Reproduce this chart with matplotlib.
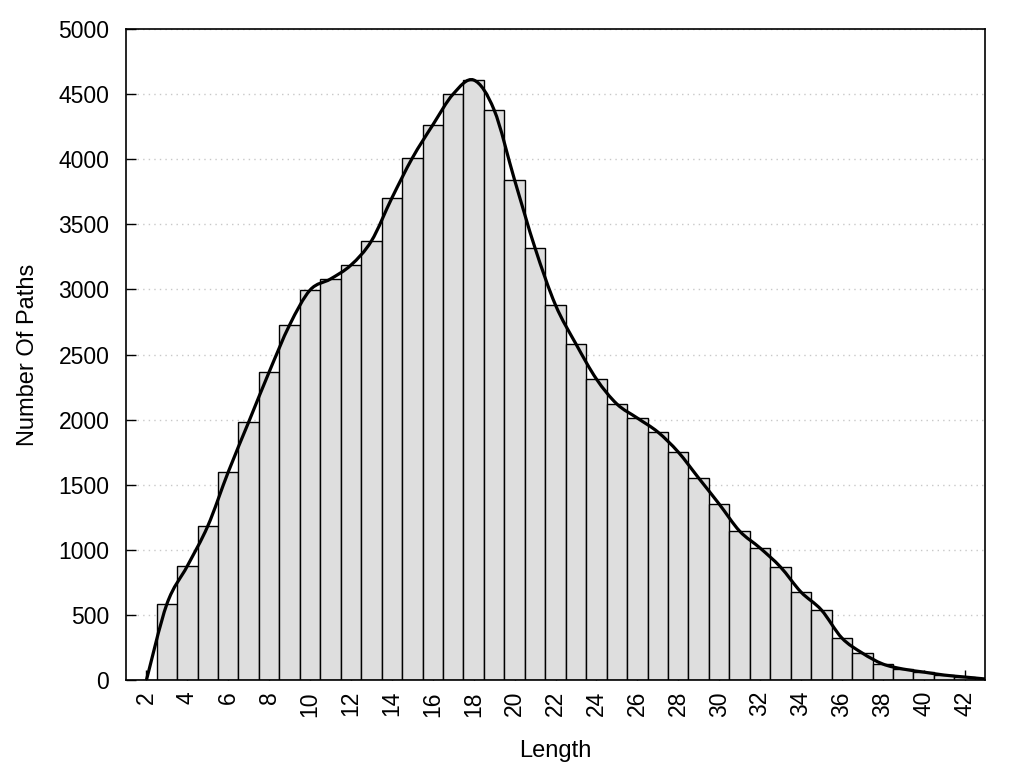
import numpy as np
import matplotlib
matplotlib.use("Agg")
import matplotlib.pyplot as plt
from matplotlib.path import Path
from matplotlib.patches import PathPatch

plt.rcParams['font.family'] = ['Liberation Sans', 'DejaVu Sans']

lengths = list(range(2, 43))
counts = [0, 584, 876, 1183, 1598, 1982, 2366, 2727, 2995, 3080, 3187, 3372,
          3702, 4009, 4263, 4501, 4608, 4378, 3840, 3318, 2880, 2581, 2312,
          2120, 2012, 1905, 1751, 1551, 1352, 1144, 1014, 868, 676, 538, 323,
          207, 123, 84, 61, 38, 23]
curve_x = lengths + [43]
curve_y = counts + [8]
x_ticks = list(range(2, 43, 2))
y_ticks = list(range(0, 5001, 500))

fig = plt.figure(figsize=(10.24, 7.68), dpi=100)
ax = fig.add_axes([126/1024, 88/768, (985-126)/1024, (680-29)/768])

ax.bar(lengths, counts, width=1.0, color='#dedede', edgecolor='black',
       linewidth=1.0, zorder=2)

# smooth curve through the points (Catmull-Rom rendered as cubic Bezier)
px = np.array(curve_x, dtype=float)
py = np.array(curve_y, dtype=float)
verts = [(px[0], py[0])]
codes = [Path.MOVETO]
n = len(px)
for i in range(n - 1):
    p0 = (px[max(i-1, 0)], py[max(i-1, 0)])
    p1 = (px[i], py[i])
    p2 = (px[i+1], py[i+1])
    p3 = (px[min(i+2, n-1)], py[min(i+2, n-1)])
    c1 = (p1[0] + (p2[0]-p0[0])/6, p1[1] + (p2[1]-p0[1])/6)
    c2 = (p2[0] - (p3[0]-p1[0])/6, p2[1] - (p3[1]-p1[1])/6)
    verts += [c1, c2, p2]
    codes += [Path.CURVE4]*3
ax.add_patch(PathPatch(Path(verts, codes), fill=False, edgecolor='black',
                       linewidth=2.3, zorder=3))

ax.set_xlim(1, 43)
ax.set_ylim(0, 5000)
ax.set_xticks(x_ticks)
ax.set_yticks(y_ticks)
ax.set_xticklabels([str(v) for v in x_ticks], rotation=90)
ax.tick_params(axis='both', direction='in', length=7, width=1,
               labelsize=16.5, top=False, right=False)
ax.tick_params(axis='x', pad=8)
ax.tick_params(axis='y', pad=12)
ax.set_axisbelow(True)
ax.yaxis.grid(True, linestyle=(0, (1, 3)), color='#c8c8c8', linewidth=1)
for s in ax.spines.values():
    s.set_linewidth(1.2)
    s.set_zorder(5)

ax.set_xlabel('Length', fontsize=17, labelpad=17)
ax.set_ylabel('Number Of Paths', fontsize=17, labelpad=14)

fig.savefig('out.png', dpi=100)
